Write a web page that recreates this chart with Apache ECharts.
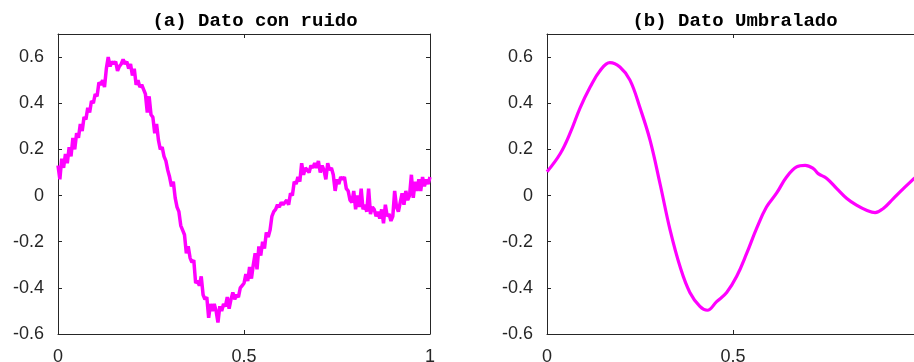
<!DOCTYPE html>
<html>
<head>
<meta charset="utf-8">
<script src="https://cdn.jsdelivr.net/npm/echarts@6/dist/echarts.min.js"></script>
<style>html,body{margin:0;padding:0;background:#fff}#c{width:914px;height:362px}</style>
</head>
<body>
<div id="c"></div>
<script>
// Panel titles
const titles = ["(a) Dato con ruido", "(b) Dato Umbralado"];
// Tick labels
const xTicks = [0, 0.5, 1];
const yTicks = [-0.6, -0.4, -0.2, 0, 0.2, 0.4, 0.6];
// (a) noisy data, sampled every 0.005 on [0,1]
const noisyStep = 0.005;
const noisyY = [
 0.13,0.07,0.16,0.12,0.18,0.14,0.21,0.17,0.25,0.20,
 0.27,0.25,0.31,0.28,0.34,0.33,0.38,0.36,0.41,0.40,
 0.44,0.43,0.49,0.48,0.50,0.47,0.55,0.60,0.56,0.58,
 0.57,0.58,0.54,0.56,0.57,0.59,0.57,0.58,0.55,0.57,
 0.52,0.55,0.48,0.50,0.47,0.48,0.46,0.44,0.36,0.43,
 0.35,0.34,0.27,0.31,0.24,0.20,0.21,0.17,0.15,0.11,
 0.08,0.04,0.06,-0.01,-0.05,-0.07,-0.13,-0.15,-0.17,-0.25,
 -0.22,-0.27,-0.29,-0.28,-0.38,-0.37,-0.39,-0.35,-0.43,-0.45,
 -0.44,-0.53,-0.47,-0.50,-0.47,-0.50,-0.55,-0.48,-0.50,-0.47,
 -0.48,-0.44,-0.49,-0.45,-0.42,-0.45,-0.43,-0.44,-0.40,-0.39,
 -0.38,-0.34,-0.37,-0.31,-0.36,-0.30,-0.25,-0.32,-0.22,-0.26,
 -0.20,-0.23,-0.16,-0.18,-0.15,-0.09,-0.07,-0.06,-0.04,-0.05,
 -0.03,-0.04,-0.03,-0.02,-0.04,0.01,0.00,0.06,0.05,0.08,
 0.06,0.14,0.09,0.12,0.11,0.10,0.13,0.12,0.14,0.12,
 0.15,0.10,0.13,0.11,0.07,0.14,0.11,0.12,0.09,0.02,
 0.07,0.05,0.08,0.07,0.08,0.03,0.02,-0.02,-0.03,0.02,
 -0.06,0.00,-0.05,0.03,-0.06,-0.04,-0.07,0.03,-0.08,-0.05,
 -0.06,-0.09,-0.07,-0.10,-0.06,-0.12,-0.04,-0.09,-0.08,-0.11,
 -0.09,0.02,-0.05,-0.07,-0.03,0.01,-0.04,0.02,-0.02,0.00,
 0.09,-0.01,0.06,0.02,0.07,0.02,0.08,0.04,0.07,0.05,
 0.08
];
// (b) thresholded (denoised) data
const smoothX = [0,0.035,0.062,0.089,0.116,0.142,0.169,0.196,0.223,0.25,0.277,0.304,0.331,0.358,0.384,0.411,0.431,0.456,0.483,0.51,0.537,0.564,0.59,0.617,0.644,0.671,0.694,0.716,0.729,0.752,0.779,0.806,0.832,0.859,0.882,0.904,0.931,0.958,0.987,1.0];
const smoothY = [0.103,0.18,0.27,0.38,0.47,0.54,0.576,0.557,0.5,0.38,0.24,0.05,-0.15,-0.31,-0.42,-0.48,-0.497,-0.46,-0.42,-0.35,-0.25,-0.14,-0.05,0.01,0.08,0.124,0.131,0.117,0.095,0.074,0.03,-0.013,-0.042,-0.064,-0.074,-0.056,-0.013,0.03,0.074,0.095];

const noisyData = noisyY.map((v, i) => [i * noisyStep, v]);
const smoothData = smoothX.map((x, i) => [x, smoothY[i]]);

const axisColor = '#262626';
const labelFont = { color: axisColor, fontSize: 18, fontFamily: 'Liberation Sans, Arial, sans-serif' };
const fmt = v => String(Math.round(v * 10) / 10);

function xAxes(gi) {
  const base = { type: 'value', gridIndex: gi, min: xTicks[0], max: xTicks[xTicks.length - 1], interval: 0.5,
    splitLine: { show: false },
    axisLine: { show: true, onZero: false, lineStyle: { color: axisColor, width: 1 } },
    axisTick: { show: true, inside: true, length: 4, lineStyle: { color: axisColor } } };
  return [
    Object.assign({}, base, { position: 'bottom', axisLabel: Object.assign({ margin: 14, formatter: fmt }, labelFont) }),
    Object.assign({}, base, { position: 'top', axisLabel: { show: false } })
  ];
}
function yAxes(gi) {
  const base = { type: 'value', gridIndex: gi, min: yTicks[0], max: 0.7, interval: 0.2,
    splitLine: { show: false },
    axisLine: { show: true, onZero: false, lineStyle: { color: axisColor, width: 1 } },
    axisTick: { show: true, inside: true, length: 4, lineStyle: { color: axisColor } } };
  return [
    Object.assign({}, base, { position: 'left', axisLabel: Object.assign({ margin: 14, showMaxLabel: false, formatter: fmt }, labelFont) }),
    Object.assign({}, base, { position: 'right', axisLabel: { show: false } })
  ];
}

const chart = echarts.init(document.getElementById('c'), null, { renderer: 'canvas' });
const titleStyle = { fontFamily: 'Liberation Mono, monospace', fontWeight: 'bold', fontSize: 19, color: '#000' };
chart.setOption({
  animation: false,
  backgroundColor: '#fff',
  title: [
    { text: titles[0], left: 250, top: 7, textAlign: 'center', textStyle: titleStyle },
    { text: titles[1], left: 730, top: 7, textAlign: 'center', textStyle: titleStyle }
  ],
  grid: [
    { left: 58, top: 34, width: 372, height: 300, outerBoundsMode: 'none', containLabel: false },
    { left: 547, top: 34, width: 372, height: 300, outerBoundsMode: 'none', containLabel: false }
  ],
  xAxis: xAxes(0).concat(xAxes(1)),
  yAxis: yAxes(0).concat(yAxes(1)),
  series: [
    { type: 'line', xAxisIndex: 0, yAxisIndex: 0, data: noisyData, showSymbol: false,
      lineStyle: { color: '#ff00ff', width: 3.5 }, itemStyle: { color: '#ff00ff' } },
    { type: 'line', xAxisIndex: 2, yAxisIndex: 2, data: smoothData, showSymbol: false, smooth: 0.4,
      lineStyle: { color: '#ff00ff', width: 3.2 }, itemStyle: { color: '#ff00ff' } }
  ]
});
</script>
</body>
</html>
